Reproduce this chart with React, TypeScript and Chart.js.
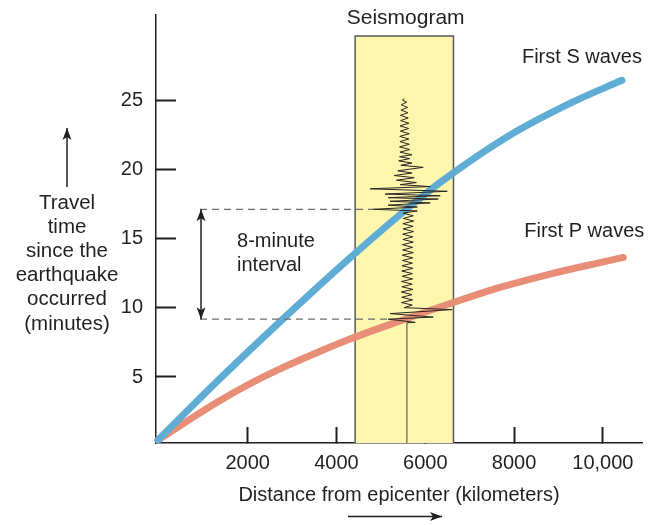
import React, { useEffect, useRef } from 'react';
import { Chart, registerables } from 'chart.js';

Chart.register(...registerables);

// ---- axis ticks ----
const xTickValues = [2000, 4000, 6000, 8000, 10000];
const xTickLabels = ['2000', '4000', '6000', '8000', '10,000'];
const yTickValues = [5, 10, 15, 20, 25];
const yTickLabels = ['5', '10', '15', '20', '25'];

// ---- scale extents ----
const xMin = -65;
const xMax = 10881;
const yMin = 0.23;
const yMax = 31.16;

// ---- travel-time curves (km, minutes) ----
const sWaveKm = [-20, 1302, 2052, 2802, 3554, 4304, 5587, 6330, 7839, 9326, 10429];
const sWaveMin = [0.45, 4.65, 6.96, 9.22, 11.44, 13.61, 17.15, 19.05, 22.35, 24.88, 26.44];

const pWaveKm = [-20, 1302, 2052, 2802, 3554, 4304, 5430, 6630, 7682, 8808, 9934, 10459];
const pWaveMin = [0.45, 3.16, 4.51, 5.69, 6.75, 7.74, 9.05, 10.38, 11.47, 12.44, 13.27, 13.64];

// ---- seismogram box ----
const boxKm = [4420, 4420, 6635, 6635];
const boxMin = [yMin, 29.64, 29.64, yMin];

// ---- seismogram trace (km, minutes), bottom to top ----
const seisKm = [
  5590, 5773, 5164, 6178, 5209, 6606, 5525,
  5705, 5465, 5715, 5470, 5700, 5460, 5720, 5475, 5705, 5465, 5715, 5480,
  5710, 5470, 5725, 5475, 5710, 5485, 5720, 5480, 5730, 5490, 5715, 5485,
  5730, 5495, 5720, 5490, 5735, 5500, 5725, 5495, 5740, 5505, 5730, 5500,
  5820, 4830, 5818, 5164, 6111, 5209, 6291, 5164, 6336, 5096, 6494, 4758, 6111, 5434,
  5800, 5350, 5750, 5300, 5700, 5380, 5953, 5450, 5700, 5400, 5650, 5420, 5700,
  5430, 5650, 5420, 5640, 5430, 5630, 5425, 5640, 5440, 5625, 5430, 5630,
  5445, 5615, 5440, 5610, 5455, 5600, 5460, 5580, 5490, 5520,
];
const seisMin = [
  8.92, 8.95, 9.18, 9.33, 9.58, 9.87, 10.01,
  10.2, 10.38, 10.57, 10.76, 10.95, 11.14, 11.33, 11.52, 11.71, 11.9, 12.09, 12.28,
  12.47, 12.66, 12.85, 13.04, 13.23, 13.42, 13.61, 13.8, 13.99, 14.18, 14.37, 14.56,
  14.75, 14.94, 15.13, 15.32, 15.51, 15.7, 15.89, 16.08, 16.27, 16.46, 16.65, 16.84,
  17.0, 17.12, 17.28, 17.42, 17.58, 17.7, 17.86, 17.96, 18.1, 18.22, 18.42, 18.6, 18.76, 18.9,
  19.05, 19.22, 19.4, 19.56, 19.74, 19.9, 20.15, 20.3, 20.46, 20.62, 20.78, 20.92, 21.06,
  21.25, 21.44, 21.63, 21.82, 22.01, 22.2, 22.39, 22.58, 22.77, 22.96, 23.15, 23.34,
  23.53, 23.72, 23.91, 24.1, 24.29, 24.48, 24.67, 24.86, 25.0, 25.13,
];

// recording stem
const stemKm = [5585, 5585];
const stemMin = [yMin, 8.92];

// arrival guide lines
const pArrivalMin = 9.18;
const sArrivalMin = 17.12;
const guideStartKm = 926;
const pGuideEndKm = 5180;
const sGuideEndKm = 4830;
const intervalArrowKm = 949;

const FONT = "'Liberation Sans', Arial, Helvetica, sans-serif";
const TEXT = '#231f20';

const pts = (xs: number[], ys: number[]) => xs.map((x, i) => ({ x, y: ys[i] }));

function arrowHead(ctx: CanvasRenderingContext2D, x1: number, y1: number, x2: number, y2: number, len: number, half: number) {
  const a = Math.atan2(y2 - y1, x2 - x1);
  const c = Math.cos(a), s = Math.sin(a);
  const bx = x2 - c * len, by = y2 - s * len;
  const nx = x2 - c * (len * 0.75), ny = y2 - s * (len * 0.75);
  ctx.beginPath();
  ctx.moveTo(x2, y2);
  ctx.lineTo(bx - s * half, by + c * half);
  ctx.lineTo(nx, ny);
  ctx.lineTo(bx + s * half, by - c * half);
  ctx.closePath();
  ctx.fill();
}

function arrow(ctx: CanvasRenderingContext2D, x1: number, y1: number, x2: number, y2: number, both = false) {
  ctx.beginPath();
  ctx.moveTo(x1, y1);
  ctx.lineTo(x2, y2);
  ctx.stroke();
  arrowHead(ctx, x1, y1, x2, y2, 12, 4.5);
  if (both) arrowHead(ctx, x2, y2, x1, y1, 12, 4.5);
}

const annotations = {
  id: 'annotations',
  afterDraw(chart: any) {
    const { ctx } = chart;
    const xs = chart.scales.x;
    const ys = chart.scales.y;
    const X = (v: number) => xs.getPixelForValue(v);
    const Y = (v: number) => ys.getPixelForValue(v);
    ctx.save();
    ctx.fillStyle = TEXT;
    ctx.strokeStyle = TEXT;
    ctx.textBaseline = 'middle';

    ctx.textAlign = 'center';
    ctx.font = `21px ${FONT}`;
    ctx.fillText('Seismogram', X(5558), Y(30.94));
    ctx.font = `20px ${FONT}`;
    ctx.fillText('First S waves', X(9529), Y(28.12));
    ctx.fillText('First P waves', X(9581), Y(15.48));

    ctx.textAlign = 'left';
    ctx.fillText('8-minute', X(1760), Y(14.78));
    ctx.fillText('interval', X(1760), Y(13.09));

    // y-axis title (horizontal, multi-line)
    ctx.textAlign = 'center';
    ctx.font = `20.5px ${FONT}`;
    const yTitle = ['Travel', 'time', 'since the', 'earthquake', 'occurred', '(minutes)'];
    yTitle.forEach((t, i) => ctx.fillText(t, 67, 203 + i * 24.2));

    ctx.lineWidth = 1.5;
    arrow(ctx, 67, 187, 67, 128);
    arrow(ctx, 348, 516.5, 442, 516.5);
    arrow(ctx, X(intervalArrowKm), Y(pArrivalMin), X(intervalArrowKm), Y(sArrivalMin), true);
    ctx.restore();
  },
};

export default function App() {
  const ref = useRef<HTMLCanvasElement | null>(null);

  useEffect(() => {
    if (!ref.current) return;
    Chart.defaults.font.family = FONT;
    Chart.defaults.color = TEXT;
    const dashed = {
      borderColor: '#6d6e71',
      borderWidth: 1.3,
      borderDash: [7, 5],
      pointRadius: 0,
      fill: false,
      order: 3,
    };
    const chart = new Chart(ref.current, {
      type: 'line',
      data: {
        datasets: [
          {
            label: 'Seismogram trace',
            data: pts(seisKm, seisMin),
            borderColor: '#2a2622',
            borderWidth: 1,
            pointRadius: 0,
            tension: 0,
            fill: false,
            order: 1,
            clip: false,
          },
          {
            label: 'Stem',
            data: pts(stemKm, stemMin),
            borderColor: '#8b8462',
            borderWidth: 1.6,
            pointRadius: 0,
            fill: false,
            order: 2,
          },
          {
            label: 'First S waves',
            data: pts(sWaveKm, sWaveMin),
            borderColor: '#5fadd5',
            borderWidth: 7,
            borderCapStyle: 'round',
            pointRadius: 0,
            cubicInterpolationMode: 'monotone',
            fill: false,
            order: 4,
            clip: false,
          },
          {
            label: 'First P waves',
            data: pts(pWaveKm, pWaveMin),
            borderColor: '#e88e76',
            borderWidth: 7,
            borderCapStyle: 'round',
            pointRadius: 0,
            cubicInterpolationMode: 'monotone',
            fill: false,
            order: 5,
            clip: false,
          },
          { label: 'S guide', data: pts([guideStartKm, sGuideEndKm], [sArrivalMin, sArrivalMin]), ...dashed },
          { label: 'P guide', data: pts([guideStartKm, pGuideEndKm], [pArrivalMin, pArrivalMin]), ...dashed },
          {
            label: 'Seismogram box',
            data: pts(boxKm, boxMin),
            borderColor: '#58595b',
            borderWidth: 1.5,
            backgroundColor: '#fff6ae',
            pointRadius: 0,
            tension: 0,
            fill: 'start',
            order: 10,
          },
        ],
      },
      options: {
        animation: false,
        responsive: false,
        devicePixelRatio: 1,
        layout: { padding: { left: 0, right: 21, top: 15, bottom: 0 } },
        plugins: { legend: { display: false }, tooltip: { enabled: false } },
        scales: {
          x: {
            type: 'linear',
            min: xMin,
            max: xMax,
            z: 1,
            afterFit: (s: any) => { s.height = 82; s.paddingLeft = 0; s.paddingRight = 0; },
            afterBuildTicks: (s: any) => { s.ticks = xTickValues.map((v) => ({ value: v })); },
            ticks: {
              autoSkip: false,
              maxRotation: 0,
              padding: 24,
              color: TEXT,
              font: { size: 20 },
              callback: (v: any) => xTickLabels[xTickValues.indexOf(Number(v))] ?? '',
            },
            grid: { drawOnChartArea: false, drawTicks: true, tickLength: -16, tickWidth: 2, color: TEXT },
            border: { display: true, color: TEXT, width: 1.5 },
            title: {
              display: true,
              text: 'Distance from epicenter (kilometers)',
              color: TEXT,
              font: { size: 20 },
              padding: { top: 18, bottom: 18 },
            },
          },
          y: {
            type: 'linear',
            min: yMin,
            max: yMax,
            afterFit: (s: any) => { s.width = 156; s.paddingTop = 0; s.paddingBottom = 0; },
            afterBuildTicks: (s: any) => { s.ticks = yTickValues.map((v) => ({ value: v })); },
            ticks: {
              autoSkip: false,
              padding: 33,
              color: TEXT,
              font: { size: 20 },
              callback: (v: any) => yTickLabels[yTickValues.indexOf(Number(v))] ?? '',
            },
            grid: { drawOnChartArea: false, drawTicks: true, tickLength: -20, tickWidth: 2, color: TEXT },
            border: { display: true, color: TEXT, width: 1.5 },
          },
        },
      },
      plugins: [annotations],
    } as any);
    return () => chart.destroy();
  }, []);

  return (
    <div style={{ position: 'fixed', left: 0, top: 0, width: 663, height: 525, background: '#fff' }}>
      <canvas ref={ref} width={663} height={525} style={{ width: 663, height: 525, display: 'block' }} />
    </div>
  );
}
